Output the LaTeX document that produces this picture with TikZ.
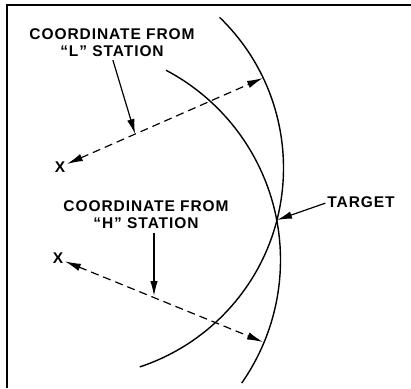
\documentclass[tikz,border=0pt]{standalone}
\usepackage{fontspec}
\setmainfont{Liberation Sans}
\usetikzlibrary{positioning,arrows.meta,calc}
\newfontfamily\lettering[LetterSpace=6]{Liberation Sans Bold}

\begin{document}
\begin{tikzpicture}[x=1pt,y=1pt,
    lbl/.style={font=\lettering\fontsize{15.5}{17}\selectfont, align=center, inner sep=0pt},
    rng/.style={line width=1.4pt},
    lead/.style={line width=1.2pt, -{Latex[length=15pt,width=7.5pt]}},
    radial/.style={line width=1.2pt, dash pattern=on 8pt off 5pt,
      {Latex[length=16pt,width=7.5pt]}-{Latex[length=16pt,width=7.5pt]}}]
  \useasboundingbox (0,0) rectangle (411,388);

  % frame
  \draw[line width=1.5pt] (7,0) -- (7,383) -- (411,383);

  % range arcs
  \draw[rng] (74,220) ++(46:209.5) arc[start angle=46, end angle=-71.7, radius=209.5];
  \draw[rng] (66,128) ++(62.2:214.5) arc[start angle=62.2, end angle=-35, radius=214.5];

  % stations and points
  \node[lbl, inner sep=1.5pt] (xL) at (60,221) {X};
  \node[lbl, inner sep=1.5pt] (xH) at (58,129.5) {X};
  \coordinate (Lend) at (263,310);
  \coordinate (Hend) at (263,46);
  \coordinate (target) at (277,168);
  \coordinate (tipL) at ($(xL)!0.37!(Lend)$);
  \coordinate (tipH) at (154,92);

  % labels
  \node[lbl] (lblL) at (112,345) {COORDINATE FROM\\“L” STATION};
  \node[lbl] (lblH) at (146,173) {COORDINATE FROM\\“H” STATION};
  \node[lbl] (tgt) at (361,185.5) {TARGET};

  % coordinates
  \draw[radial] (xL) -- (Lend);
  \draw[radial] (xH) -- (Hend);

  % leaders
  \draw[lead, shorten <=3pt] (lblL.south) -- (tipL);
  \draw[lead, shorten <=4pt] (lblH.south -| tipH) -- (tipH);
  \draw[lead, shorten <=2pt] (tgt.west) -- (target);
\end{tikzpicture}
\end{document}
